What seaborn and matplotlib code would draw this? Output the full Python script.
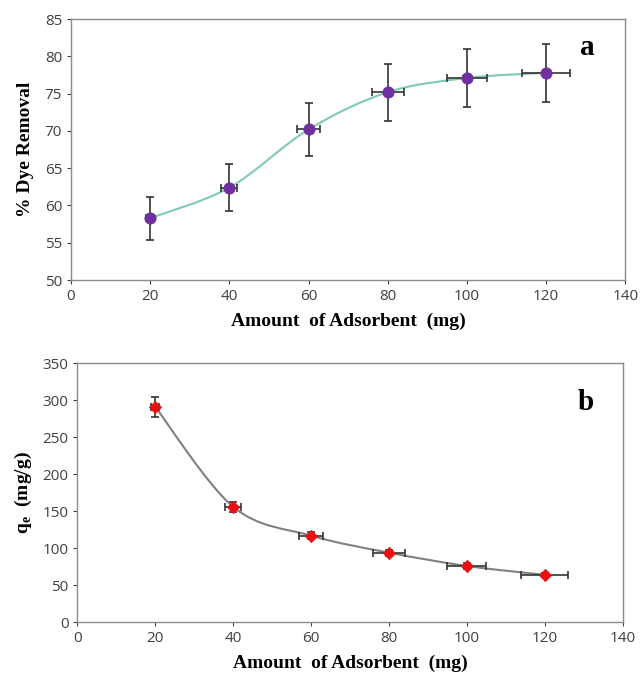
import matplotlib.pyplot as plt
import numpy as np
import pandas as pd
import seaborn as sns
from matplotlib.path import Path
from matplotlib.patches import PathPatch

# values
adsorbent = [20, 40, 60, 80, 100, 120]
adsorbent_err = [1, 2, 3, 4, 5, 6]
removal = [58.3, 62.4, 70.2, 75.2, 77.1, 77.8]
removal_err = [2.9, 3.1, 3.5, 3.8, 3.9, 3.9]
qe = [291, 156, 117, 94, 76, 64]
qe_err = [14, 7, 5, 4, 4, 3]

x_ticks = [0, 20, 40, 60, 80, 100, 120, 140]
removal_ticks = [50, 55, 60, 65, 70, 75, 80, 85]
qe_ticks = [0, 50, 100, 150, 200, 250, 300, 350]

sns.set_style("white")
plt.rcParams["font.family"] = ["Open Sans", "DejaVu Sans"]
plt.rcParams["mathtext.fontset"] = "custom"
plt.rcParams["mathtext.rm"] = "Liberation Serif:bold"
plt.rcParams["mathtext.bf"] = "Liberation Serif:bold"

label_font = dict(family="Liberation Serif", fontweight="bold", fontsize=14,
                  color="black")
tick_color = "#404040"


def smooth_path(xs, ys):
    # excel-like smoothed line: catmull-rom segments as cubic beziers
    pts = np.column_stack([xs, ys]).astype(float)
    verts = [pts[0]]
    codes = [Path.MOVETO]
    n = len(pts)
    for i in range(n - 1):
        p0 = pts[i - 1] if i > 0 else pts[i]
        p1 = pts[i]
        p2 = pts[i + 1]
        p3 = pts[i + 2] if i + 2 < n else pts[i + 1]
        c1 = p1 + (p2 - p0) / 6.0
        c2 = p2 - (p3 - p1) / 6.0
        verts += [c1, c2, p2]
        codes += [Path.CURVE4] * 3
    return Path(verts, codes)


def draw_panel(ax, ys, yerr, line_color, marker_color, marker, msize,
               yticks, ylabel, tag, tag_y, ylabelpad):
    df = pd.DataFrame({"x": adsorbent, "y": ys})
    ax.add_patch(PathPatch(smooth_path(adsorbent, ys), fc="none",
                           ec=line_color, lw=1.5, zorder=2))
    ax.errorbar(adsorbent, ys, xerr=adsorbent_err, yerr=yerr, fmt="none",
                ecolor="#333333", elinewidth=1.2, capsize=3, capthick=1.2,
                zorder=3)
    sns.scatterplot(data=df, x="x", y="y", ax=ax, marker=marker, s=msize,
                    color=marker_color, edgecolor=marker_color, zorder=4)

    ax.set_xlim(0, 140)
    ax.set_ylim(yticks[0], yticks[-1])
    ax.set_xticks(x_ticks)
    ax.set_yticks(yticks)
    ax.tick_params(axis="both", labelsize=11, colors=tick_color,
                   length=3, width=0.8, direction="out", bottom=True, left=True)
    for sp in ax.spines.values():
        sp.set_color("#8c8c8c")
        sp.set_linewidth(1.0)
    ax.set_xlabel("Amount  of Adsorbent  (mg)", labelpad=6, **label_font)
    ax.set_ylabel(ylabel, labelpad=ylabelpad, **label_font)
    ax.text(0.932, tag_y, tag, transform=ax.transAxes, ha="center",
            va="center", family="Liberation Serif", fontweight="bold",
            fontsize=21, color="black")


fig = plt.figure(figsize=(6.4, 6.83), dpi=100)
ax_a = fig.add_axes([0.111, 0.590, 0.866, 0.382])
ax_b = fig.add_axes([0.121, 0.089, 0.852, 0.379])

draw_panel(ax_a, removal, removal_err, "#80cbb0", "#7030a0", "o", 65,
           removal_ticks, "% Dye Removal", "a", 0.893, 8)
draw_panel(ax_b, qe, qe_err, "#808080", "#e81010", "D", 40,
           qe_ticks, r"q$_\mathbf{e}$  (mg/g)", "b", 0.85, 6)

fig.savefig("out.png", dpi=100)
